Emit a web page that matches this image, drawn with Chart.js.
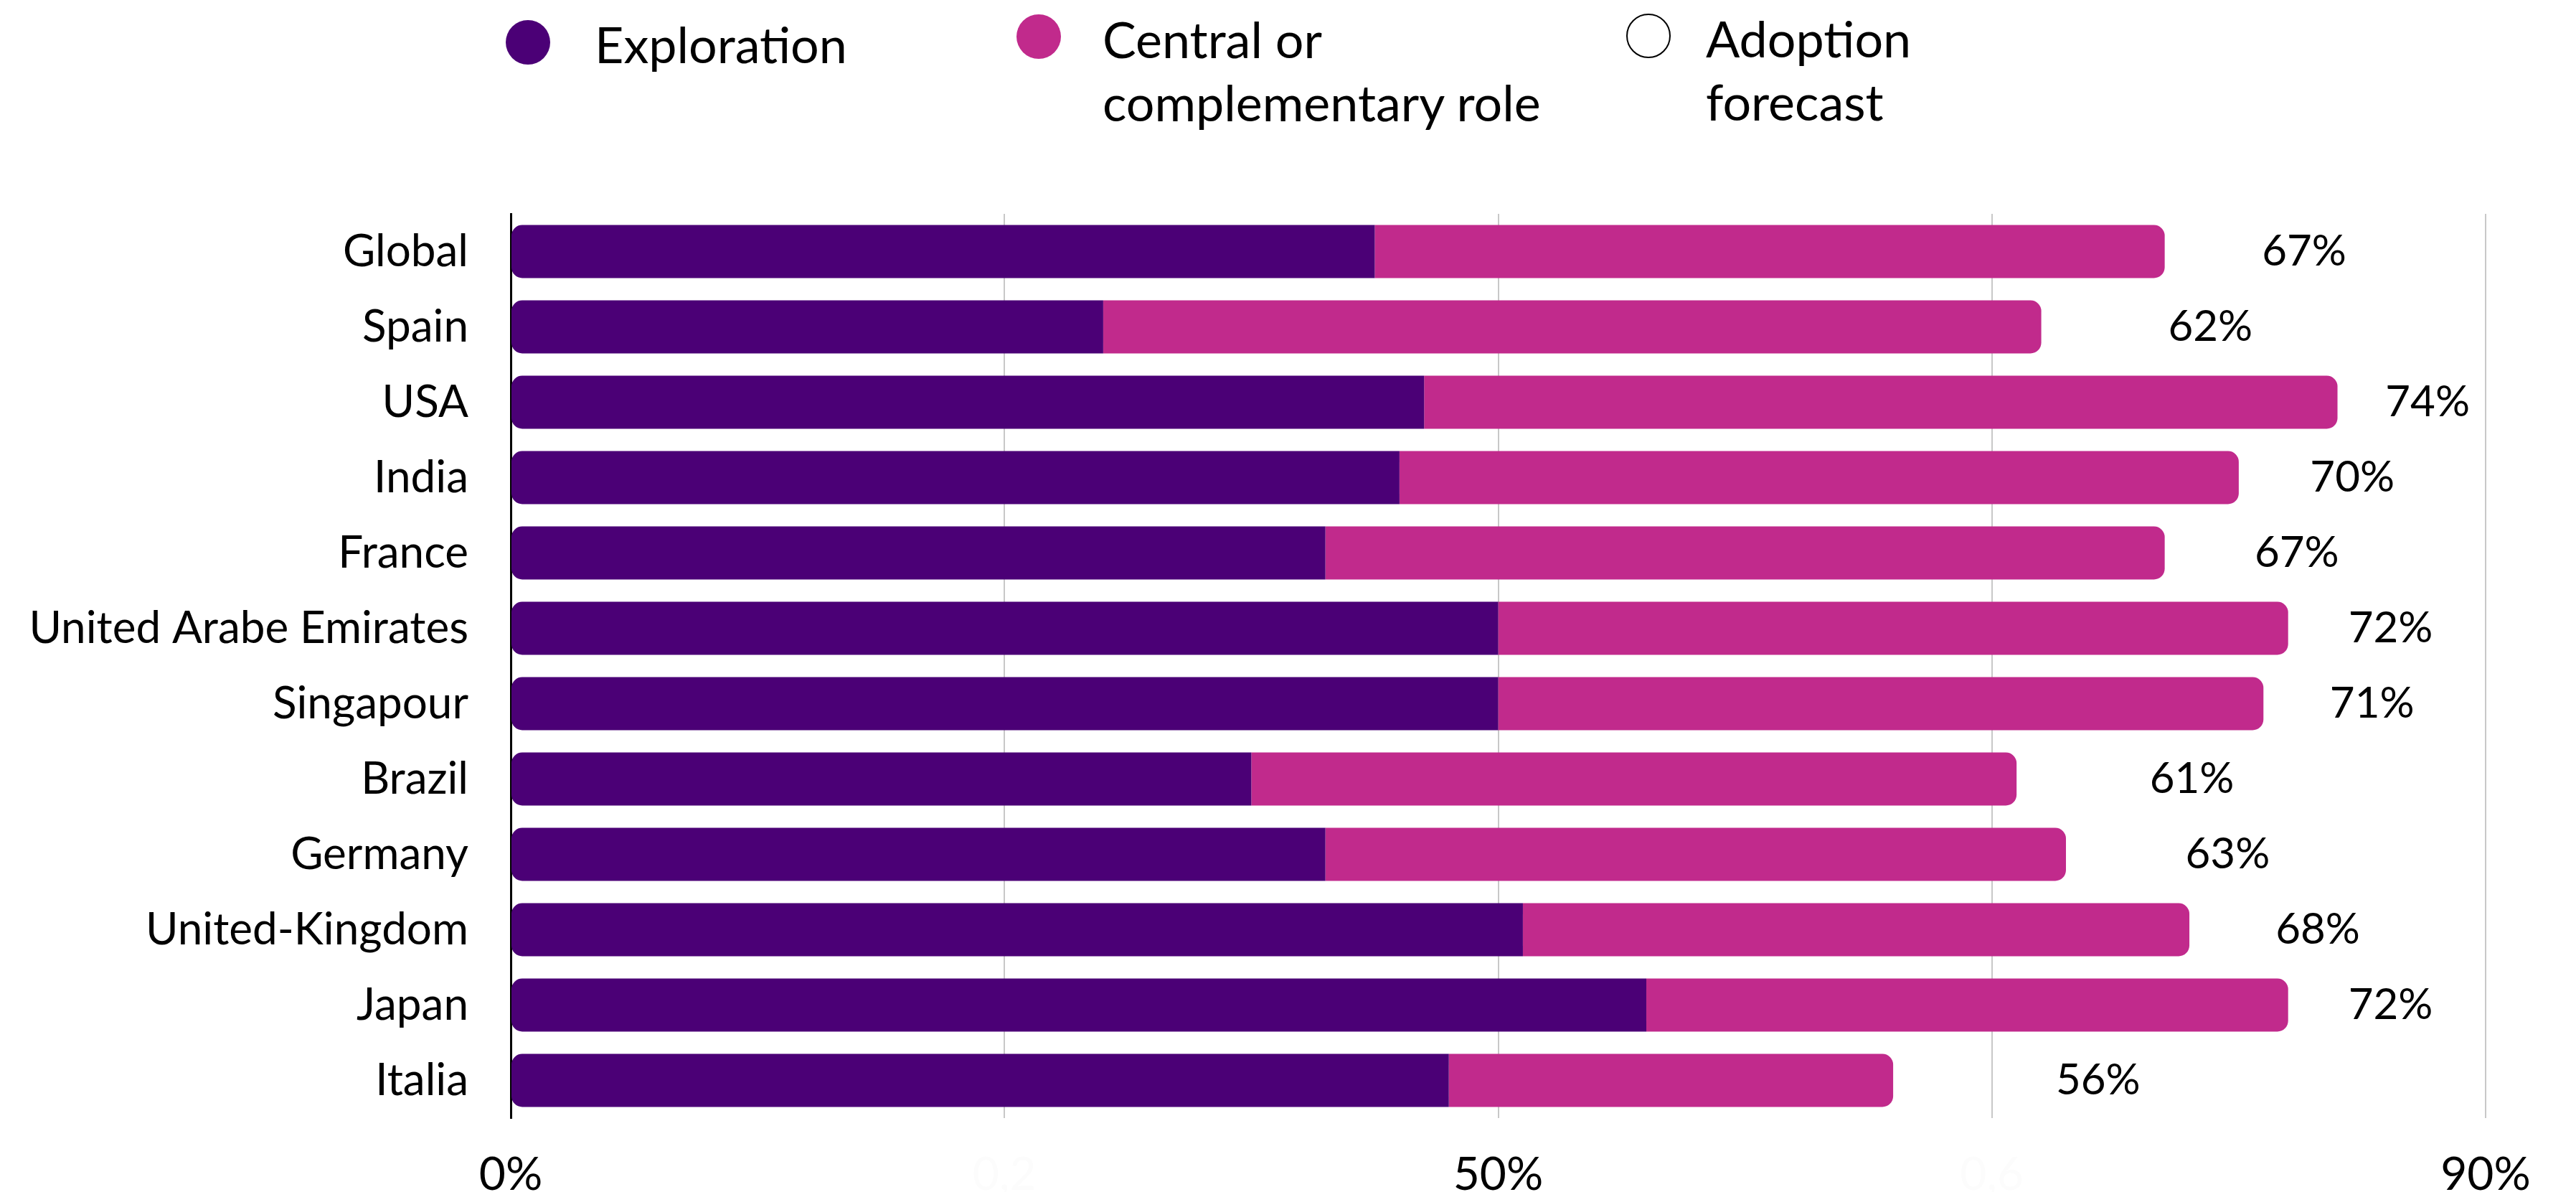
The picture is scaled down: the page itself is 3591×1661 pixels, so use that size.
<!DOCTYPE html>
<html>
<head>
<meta charset="utf-8">
<script src="https://cdn.jsdelivr.net/npm/chart.js@4.4.1/dist/chart.umd.min.js"></script>
<style>
  html, body { margin: 0; padding: 0; background: #ffffff; }
  #wrap { position: relative; width: 3591px; height: 1661px; overflow: hidden; background: #ffffff; }
  #chart { position: absolute; left: 0; top: 0; }
  .dot { position: absolute; width: 62px; height: 62px; border-radius: 50%; box-sizing: border-box; }
  .lbl { position: absolute; font-family: Lato, "Open Sans", sans-serif; font-size: 70px; line-height: 88px; color: #000; white-space: nowrap; }
</style>
</head>
<body>
<div id="wrap">
  <canvas id="chart" width="3591" height="1661"></canvas>
  <div class="dot" style="left:705px; top:28px; background:#4b0076;"></div>
  <div class="lbl" style="left:829px; top:17px;">Exploration</div>
  <div class="dot" style="left:1417px; top:20px; background:#c12a8c;"></div>
  <div class="lbl" style="left:1537px; top:10px;">Central or<br>complementary role</div>
  <div class="dot" style="left:2267px; top:19px; background:#ffffff; border:2px solid #000;"></div>
  <div class="lbl" style="left:2378px; top:9px;">Adoption<br>forecast</div>
</div>
<script>
// ---- data (percent) ----
const categories = ['Global', 'Spain', 'USA', 'India', 'France', 'United Arabe Emirates',
  'Singapour', 'Brazil', 'Germany', 'United-Kingdom', 'Japan', 'Italia'];
const exploration = [35, 24, 37, 36, 33, 40, 40, 30, 33, 41, 46, 38];
const centralRole = [32, 38, 37, 34, 34, 32, 31, 31, 30, 27, 26, 18];
const adoptionForecast = [67, 62, 74, 70, 67, 72, 71, 61, 63, 68, 72, 56];
// spacing segment that carries the forecast label (unfilled)
const forecastGap = [11.3, 13.7, 7.3, 9.2, 10.7, 8.3, 8.8, 14.2, 13.1, 10.4, 8.3, 16.6];
const xTickLabels = ['0%', '0,2', '50%', '0,6', '90%'];
const xTickColors = ['#000000', '#fcfcfc', '#000000', '#fcfcfc', '#000000'];

const forecastLabels = {
  id: 'forecastLabels',
  afterDatasetsDraw(chart) {
    const meta = chart.getDatasetMeta(2);
    const ctx = chart.ctx;
    ctx.save();
    ctx.font = '60px Lato';
    ctx.fillStyle = '#000000';
    ctx.textAlign = 'center';
    ctx.textBaseline = 'middle';
    meta.data.forEach((el, i) => {
      const p = el.getCenterPoint();
      ctx.fillText(adoptionForecast[i] + '%', p.x, p.y);
    });
    ctx.restore();
  }
};

function build() {
  Chart.defaults.font.family = 'Lato';
  Chart.defaults.color = '#000000';
  new Chart(document.getElementById('chart'), {
    type: 'bar',
    data: {
      labels: categories,
      datasets: [
        {
          label: 'Exploration',
          data: exploration,
          backgroundColor: '#4b0076',
          borderWidth: 0,
          borderSkipped: false,
          borderRadius: { topLeft: 15, bottomLeft: 15, topRight: 0, bottomRight: 0 },
          categoryPercentage: 1,
          barPercentage: 0.705
        },
        {
          label: 'Central or complementary role',
          data: centralRole,
          backgroundColor: '#c12a8c',
          borderWidth: 0,
          borderSkipped: false,
          borderRadius: { topLeft: 0, bottomLeft: 0, topRight: 15, bottomRight: 15 },
          categoryPercentage: 1,
          barPercentage: 0.705
        },
        {
          label: 'Adoption forecast',
          data: forecastGap,
          backgroundColor: 'rgba(255,255,255,0)',
          borderWidth: 0,
          categoryPercentage: 1,
          barPercentage: 0.705
        }
      ]
    },
    options: {
      indexAxis: 'y',
      responsive: false,
      devicePixelRatio: 1,
      animation: false,
      events: [],
      layout: { padding: { top: 298, right: 126, bottom: 0, left: 0 } },
      plugins: { legend: { display: false }, tooltip: { enabled: false } },
      scales: {
        x: {
          stacked: true,
          min: 0,
          max: 80,
          afterFit(scale) { scale.height = 103; },
          ticks: {
            stepSize: 20,
            padding: 41,
            font: { size: 64, family: 'Lato', lineHeight: 1.2 },
            color: (c) => xTickColors[c.index] || '#000000',
            callback: (v, i) => xTickLabels[i]
          },
          grid: { color: '#c8c8c8', lineWidth: 2, drawTicks: false },
          border: { display: false }
        },
        y: {
          stacked: true,
          afterFit(scale) { scale.width = 712; },
          ticks: {
            padding: 59,
            font: { size: 62, family: 'Lato' },
            color: '#000000'
          },
          grid: { display: false, drawTicks: false },
          border: { display: true, color: '#000000', width: 3 }
        }
      }
    },
    plugins: [forecastLabels]
  });
}

if (document.fonts && document.fonts.load) {
  Promise.all([document.fonts.load('62px Lato'), document.fonts.load('64px Lato'), document.fonts.load('70px Lato')])
    .then(build, build);
} else {
  build();
}
</script>
</body>
</html>
